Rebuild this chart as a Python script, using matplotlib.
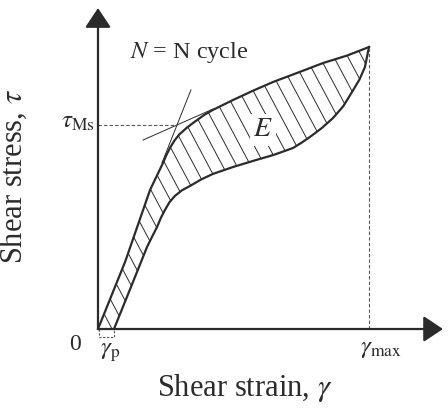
import numpy as np
import matplotlib as mpl
mpl.use('Agg')
import matplotlib.pyplot as plt
from matplotlib.patches import Polygon

mpl.rcParams['font.family'] = ['Liberation Serif', 'DejaVu Serif']
mpl.rcParams['mathtext.fontset'] = 'stix'

# loading branch (0,0) -> (gamma_max, tau_max), normalised units
load_x = [0.0, 0.100, 0.192, 0.240, 0.252, 0.266, 0.282, 0.300, 0.328, 0.350, 0.390, 0.424, 0.498,
          0.572, 0.646, 0.740, 0.830, 0.920, 1.0]
load_y = [0.0, 0.238, 0.493, 0.589, 0.616, 0.643, 0.668, 0.690, 0.714, 0.730, 0.758, 0.777, 0.812,
          0.845, 0.876, 0.910, 0.943, 0.970, 1.0]
# unloading branch (gamma_p, 0) -> (gamma_max, tau_max)
unl_x = [0.059, 0.120, 0.181, 0.200, 0.218, 0.232, 0.247, 0.264, 0.284, 0.310, 0.339, 0.380, 0.424,
         0.500, 0.572, 0.650, 0.720, 0.750, 0.782, 0.825, 0.867, 0.905, 0.937, 0.965, 0.985, 1.0]
unl_y = [0.0, 0.145, 0.291, 0.328, 0.362, 0.394, 0.422, 0.450, 0.472, 0.492, 0.507, 0.530, 0.550,
         0.575, 0.596, 0.618, 0.642, 0.660, 0.681, 0.712, 0.748, 0.790, 0.840, 0.885, 0.929, 1.0]

gamma_p = 0.059
gamma_max = 1.0
tau_ms = 0.723
# tangent lines giving tau_Ms
tan1_x = [0.236, 0.343]
tan1_y = [0.589, 0.848]
tan2_x = [0.166, 0.424]
tan2_y = [0.670, 0.780]

ink = '#2b2b2b'

fig = plt.figure(figsize=(4.48, 4.08), dpi=100)
ax = fig.add_axes([0, 0, 1, 1])
ax.set_xlim(-0.3616, 1.2915)
ax.set_ylim(-0.2801, 1.1667)
ax.axis('off')

# axes with arrows
arr = dict(arrowstyle='-|>,head_length=0.6,head_width=0.4', lw=1.6, color=ink,
           mutation_scale=20, shrinkA=0, shrinkB=0)
ax.annotate('', xy=(0, 1.138), xytext=(0, 0), arrowprops=arr)
ax.annotate('', xy=(1.273, 0), xytext=(0, 0), arrowprops=arr)

# loop outline and hatching
loop = np.column_stack([load_x + unl_x[::-1], load_y + unl_y[::-1]])
poly = Polygon(loop, closed=True, facecolor='none', edgecolor='none')
ax.add_patch(poly)
slope = -np.tan(np.radians(62)) * 271 / 282
for c in np.arange(0.0, 1.8, 0.052):
    hl, = ax.plot([c - 1.0, c + 0.2], [-slope * 1.0, slope * 0.2], color=ink, lw=0.7)
    hl.set_clip_path(poly)
ax.plot(load_x, load_y, color=ink, lw=1.6, solid_joinstyle='round')
ax.plot(unl_x, unl_y, color=ink, lw=1.6, solid_joinstyle='round')

# tangents
ax.plot(tan1_x, tan1_y, color=ink, lw=0.7)
ax.plot(tan2_x, tan2_y, color=ink, lw=0.7)

# dashed guides
ax.plot([0, 0.29], [tau_ms, tau_ms], color='#555555', lw=0.8, ls=(0, (3, 2)))
ax.plot([gamma_max, gamma_max], [0, 1.0], color='#555555', lw=0.8, ls=(0, (3, 2)))
ax.plot([0.004, 0.004, gamma_p, gamma_p], [0, -0.027, -0.027, 0], color='#555555', lw=0.8, ls=(0, (2, 1.5)))

# labels
ax.text(0.609, 0.706, r'$E$', fontsize=20, ha='center', va='center', color=ink,
        bbox=dict(boxstyle='square,pad=0.12', fc='white', ec='none'))
ax.text(0.118, 0.979, r'$N$ = N cycle', fontsize=17.5, ha='left', va='center', color=ink)
ax.text(-0.012, tau_ms + 0.01, r'$\tau_{\rm Ms}$', fontsize=18, ha='right', va='center', color=ink)
ax.text(-0.085, -0.055, '0', fontsize=17, ha='center', va='center', color=ink)
ax.text(0.045, -0.085, r'$\gamma_{\rm p}$', fontsize=18, ha='center', va='center', color=ink)
ax.text(1.045, -0.07, r'$\gamma_{\rm max}$', fontsize=18, ha='center', va='center', color=ink)
ax.text(0.542, -0.21, r'Shear strain, $\gamma$', fontsize=22, ha='center', va='center', color=ink)
ax.text(-0.31, 0.54, r'Shear stress, $\tau$', fontsize=22, ha='center', va='center',
        rotation=90, color=ink)

plt.savefig('out.png', dpi=100)
